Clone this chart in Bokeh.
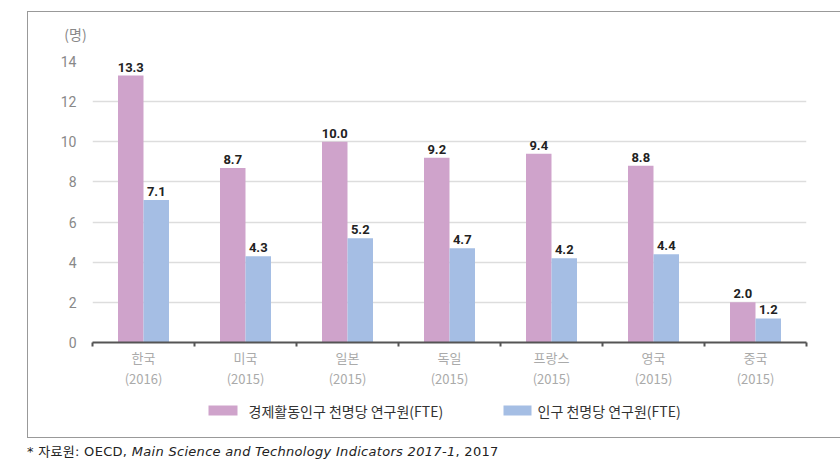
from bokeh.plotting import figure
from bokeh.layouts import column, row
from bokeh.models import (ColumnDataSource, FixedTicker, Range1d, Label, Div)
from bokeh.transform import dodge
from bokeh.core.properties import value
from bokeh.embed import file_html
from bokeh.resources import INLINE

categories = ["한국", "미국", "일본", "독일", "프랑스", "영국", "중국"]
years = ["(2016)", "(2015)", "(2015)", "(2015)", "(2015)", "(2015)", "(2015)"]
econ_active = [13.3, 8.7, 10.0, 9.2, 9.4, 8.8, 2.0]
population = [7.1, 4.3, 5.2, 4.7, 4.2, 4.4, 1.2]
series_names = ["경제활동인구 천명당 연구원(FTE)", "인구 천명당 연구원(FTE)"]
y_ticks = [0, 2, 4, 6, 8, 10, 12, 14]
unit_label = "(명)"
source_note = ["* 자료원: OECD, ", "Main Science and Technology Indicators 2017-1", ", 2017"]

PINK = "#CFA3CB"
BLUE = "#A5BEE4"
BOX = "#999999"

# chart figure sits at page (28, 12) inside a 1px box line
PW, PH = 812, 385
LH = 425 - PH          # legend strip height
FL, FR, FT, FB = 64, 778, 49, 330
N = len(categories)
Y0, Y1 = 0, 14


def px2x(px):
    return (px - FL) / (FR - FL) * N


def px2y(py):
    return (FB - py) / (FB - FT) * (Y1 - Y0)


centers = [i + 0.5 for i in range(N)]
src = ColumnDataSource(dict(
    x=centers, econ=econ_active, pop=population,
    econ_lbl=[f"{v:.1f}" for v in econ_active],
    pop_lbl=[f"{v:.1f}" for v in population],
))

p = figure(width=PW, height=PH, output_backend="svg", toolbar_location=None,
           x_range=Range1d(0, N), y_range=Range1d(Y0, Y1),
           min_border_left=FL, min_border_right=PW - FR,
           min_border_top=FT, min_border_bottom=PH - FB)
p.outline_line_color = None

bw = 0.25
p.vbar(x=dodge("x", -bw / 2, range=p.x_range), top="econ", width=bw, source=src,
       fill_color=PINK, line_color=None)
p.vbar(x=dodge("x", bw / 2, range=p.x_range), top="pop", width=bw, source=src,
       fill_color=BLUE, line_color=None)

for off, col in ((-bw / 2, "econ"), (bw / 2, "pop")):
    p.text(x=dodge("x", off, range=p.x_range), y=col, text=col + "_lbl", source=src,
           y_offset=-4, text_align="center", text_baseline="bottom",
           text_font=value("Roboto"), text_font_style="bold", text_font_size="13px",
           text_color="#222222")

# axes
p.xaxis.ticker = FixedTicker(ticks=centers, minor_ticks=list(range(N + 1)))
p.xaxis.major_label_overrides = {c: f"{cat}\n{yr}" for c, cat, yr in zip(centers, categories, years)}
p.xaxis.axis_line_color = "#555555"
p.xaxis.axis_line_width = 2
p.xaxis.major_tick_line_color = None
p.xaxis.major_tick_out = 0
p.xaxis.minor_tick_line_color = "#555555"
p.xaxis.minor_tick_line_width = 2
p.xaxis.minor_tick_out = 4
p.xaxis.minor_tick_in = 0
p.xaxis.major_label_text_color = "#aaaaaa"
p.xaxis.major_label_text_font = "Noto Sans CJK KR"
p.xaxis.major_label_text_font_size = "13px"
p.xaxis.major_label_text_line_height = 1.15
p.xaxis.major_label_standoff = 1

p.yaxis.ticker = FixedTicker(ticks=y_ticks)
p.yaxis.axis_line_color = None
p.yaxis.major_tick_line_color = None
p.yaxis.minor_tick_line_color = None
p.yaxis.major_label_text_color = "#888888"
p.yaxis.major_label_text_font = "Roboto"
p.yaxis.major_label_text_font_size = "14px"
p.yaxis.major_label_standoff = 10

p.xgrid.grid_line_color = None
p.ygrid.grid_line_color = "#dddddd"
p.ygrid.grid_line_width = 1.5

# unit label (in the top panel so it is not clipped to the frame)
p.add_layout(Label(x=px2x(47), y=px2y(21), text=unit_label, text_align="center",
                   text_baseline="middle", text_color="#888888", text_font_size="14px",
                   text_font="Noto Sans CJK KR"), "above")

# legend strip: its own small figure; its frame is aligned with the chart frame,
# so its x range is given in the chart figure's pixel coordinates
lg = figure(width=PW, height=LH, output_backend="svg", toolbar_location=None,
            x_range=Range1d(FL, FR), y_range=Range1d(LH, 0),
            min_border=0, x_axis_type=None, y_axis_type=None)
lg.outline_line_color = None
lg.grid.visible = False
leg_src = ColumnDataSource(dict(
    sx=[180 + 14.5, 475 + 14], sw=[29, 28],
    tx=[220, 509], name=series_names, color=[PINK, BLUE],
))
lg.rect(x="sx", y=LH - 27, width="sw", height=10, source=leg_src,
        fill_color="color", line_color=None)
lg.text(x="tx", y=LH - 27, text="name", source=leg_src, text_align="left",
        text_baseline="middle", text_font=value("Noto Sans CJK KR"),
        text_font_size="14px", text_color="#333333")


def line_div(w, h, margin=(0, 0, 0, 0)):
    return Div(text="", width=w, height=h, margin=margin,
               styles={"background-color": BOX})


top_line = line_div(PW + 1, 1, (11, 0, 0, 27))
mid = row(line_div(1, PH + LH), column(p, lg, spacing=0), spacing=0, margin=(0, 0, 0, 27))
bottom_line = line_div(PW + 1, 1, (0, 0, 0, 27))

footnote = Div(text=f"{source_note[0]}<i>{source_note[1]}</i>{source_note[2]}",
               styles={"font-family": "'DejaVu Sans', 'Noto Sans CJK KR', sans-serif",
                       "font-size": "13px", "letter-spacing": "0.3px",
                       "color": "#222222", "line-height": "16px", "white-space": "nowrap"},
               margin=(6, 0, 0, 27), width=780, height=16)

layout = column(top_line, mid, bottom_line, footnote, spacing=0)
open("out.html", "w").write(file_html(layout, INLINE))
